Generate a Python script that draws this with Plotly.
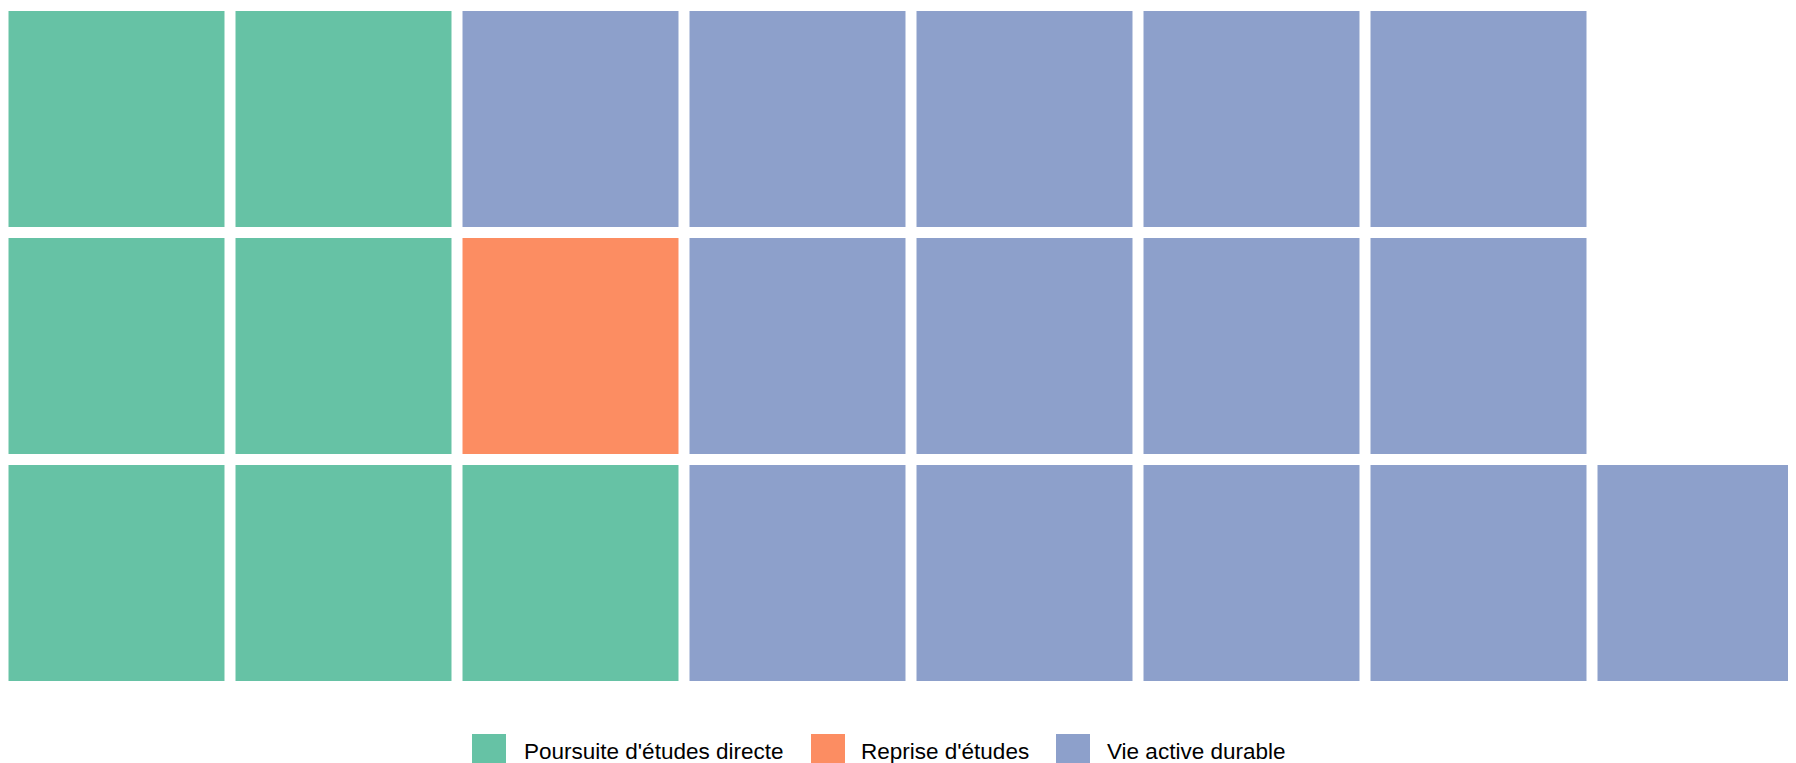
import plotly.graph_objects as go
import numpy as np

# ---- data ----
categories = ["Poursuite d'études directe", "Reprise d'études", "Vie active durable"]
counts = [7, 1, 14]
colors = ["#66c2a5", "#fc8d62", "#8da0cb"]
n_rows = 3

# ---- build waffle grid (filled column by column, bottom to top) ----
total = sum(counts)
n_cols = int(np.ceil(total / n_rows))
z = np.full((n_rows, n_cols), np.nan)
idx = 0
for ci, c in enumerate(counts):
    for _ in range(c):
        col, row = divmod(idx, n_rows)
        z[row, col] = ci + 0.5
        idx += 1

ncat = len(categories)
colorscale = []
for i, c in enumerate(colors):
    colorscale.append([i / ncat, c])
    colorscale.append([(i + 1) / ncat, c])

W, H = 1796, 763
OFF = 8           # page body margin
PLOT_BOTTOM = 700  # px from figure top where plot area ends
pitch = 227.0
x0c = 117.0 - OFF     # px centre of first column (figure coords)
y0c = 573.5 - OFF     # px centre of bottom row (figure coords)

fig = go.Figure()
fig.add_trace(go.Heatmap(
    z=z,
    x=list(range(n_cols)),
    y=list(range(n_rows)),
    zmin=0, zmax=ncat,
    colorscale=colorscale,
    xgap=11, ygap=11,
    showscale=False,
    hoverinfo="skip",
))

xr = [(-x0c) / pitch, (W - x0c) / pitch]
yr = [(y0c - PLOT_BOTTOM) / pitch, y0c / pitch]

fig.update_xaxes(range=xr, visible=False, showgrid=False, zeroline=False)
fig.update_yaxes(range=yr, visible=False, showgrid=False, zeroline=False)

# ---- custom legend ----
def px_x(px):
    return (px - OFF) / W

def px_y(px):
    return (PLOT_BOTTOM - (px - OFF)) / PLOT_BOTTOM

legend_swatch_x = [472, 811, 1056]
legend_text_x = [522, 858.5, 1105]
for cat, col, sx, tx in zip(categories, colors, legend_swatch_x, legend_text_x):
    fig.add_shape(type="rect", xref="paper", yref="paper",
                  x0=px_x(sx), x1=px_x(sx + 34), y0=px_y(734), y1=px_y(768),
                  fillcolor=col, line=dict(width=0), layer="above")
    fig.add_annotation(xref="paper", yref="paper", x=px_x(tx), y=px_y(751),
                       text=cat, showarrow=False, xanchor="left", yanchor="middle",
                       font=dict(family="Liberation Sans, Arial, sans-serif", size=22.5, color="#000000"))

fig.update_layout(
    width=W, height=H,
    margin=dict(l=0, r=0, t=0, b=H - PLOT_BOTTOM, pad=0),
    paper_bgcolor="white", plot_bgcolor="white",
    showlegend=False,
)

fig.write_html("out.html", config={"displayModeBar": False})
